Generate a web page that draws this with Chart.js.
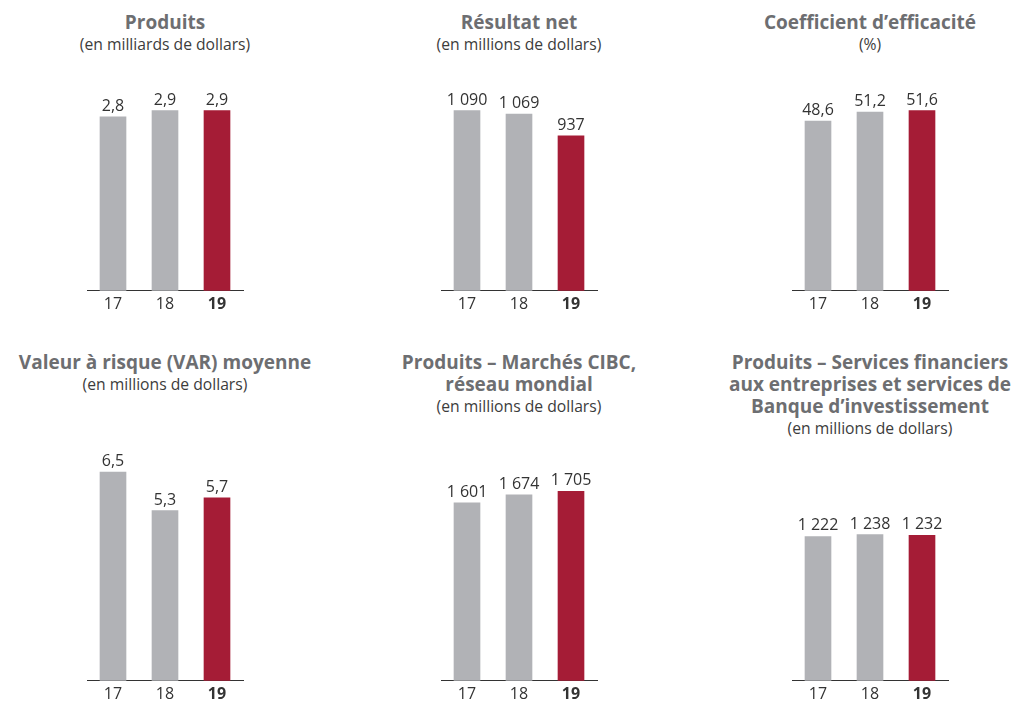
<!DOCTYPE html>
<html lang="fr">
<head>
<meta charset="utf-8">
<title>Faits saillants</title>
<script src="https://cdn.jsdelivr.net/npm/chart.js@4/dist/chart.umd.min.js"></script>
<style>
  html, body { margin: 0; padding: 0; overflow: hidden; background: #fff; }
  body { width: 1017px; height: 701px; position: relative; font-family: "Open Sans", sans-serif; }
  .title { position: absolute; width: 380px; text-align: center; }
  .title b { display: block; font-size: 19px; line-height: 22px; color: #6d6e71; font-weight: 700; }
  .title span { display: block; font-size: 15.7px; line-height: 22px; color: #3c3c3c; }
  canvas { position: absolute; }
</style>
</head>
<body>
<script>
"use strict";

const years = ["17", "18", "19"];
const produits = [2.8, 2.9, 2.9];
const resultatNet = [1090, 1069, 937];
const coefficientEfficacite = [48.6, 51.2, 51.6];
const varMoyenne = [6.5, 5.3, 5.7];
const produitsMarches = [1601, 1674, 1705];
const produitsServices = [1222, 1238, 1232];

const GREY = "#b1b2b6";
const RED = "#a51c36";

// layout of the two rows (plot area top / axis line, page pixels)
const rows = [
  { titleTop: 11, areaTop: 90.7, axisY: 291 },
  { titleTop: 351, areaTop: 440.7, axisY: 681 },
];

const panels = [
  { title: ["Produits"], sub: "(en milliards de dollars)", values: produits, dec: 1, max: 3.23, cx: 165, row: 0 },
  { title: ["Résultat net"], sub: "(en millions de dollars)", values: resultatNet, dec: 0, max: 1214, cx: 519, row: 0 },
  { title: ["Coefficient d’efficacité"], sub: "(%)", values: coefficientEfficacite, dec: 1, max: 57.5, cx: 870, row: 0 },
  { title: ["Valeur à risque (VAR) moyenne"], sub: "(en millions de dollars)", values: varMoyenne, dec: 1, max: 7.5, cx: 165, row: 1 },
  { title: ["Produits – Marchés CIBC,", "réseau mondial"], sub: "(en millions de dollars)", values: produitsMarches, dec: 0, max: 2167, cx: 519, row: 1 },
  { title: ["Produits – Services financiers", "aux entreprises et services de", "Banque d’investissement"], sub: "(en millions de dollars)", values: produitsServices, dec: 0, max: 2039, cx: 870, row: 1 },
];

function fmt(v, dec) {
  const s = v.toFixed(dec).split(".");
  s[0] = s[0].replace(/\B(?=(\d{3})+(?!\d))/g, " ");
  return s.join(",");
}

const valueLabels = {
  id: "valueLabels",
  afterDatasetsDraw(chart, args, opts) {
    const { ctx } = chart;
    const data = chart.data.datasets[0].data;
    ctx.save();
    ctx.font = '16px "Open Sans"';
    ctx.fillStyle = "#333";
    ctx.textAlign = "center";
    ctx.textBaseline = "alphabetic";
    chart.getDatasetMeta(0).data.forEach((bar, i) => {
      ctx.fillText(fmt(data[i], opts.dec), bar.x, bar.y - 6);
    });
    ctx.restore();
  },
};

const PAD_TOP = 40;
const PAD_BOTTOM = 12;
const TICK_PAD = 4;
const X_AXIS_H = TICK_PAD * 2 + 16 * 1.2;

panels.forEach((p) => {
  const row = rows[p.row];

  const t = document.createElement("div");
  t.className = "title";
  t.style.left = p.cx - 190 + "px";
  t.style.top = row.titleTop + "px";
  t.innerHTML = p.title.map((l) => "<b>" + l + "</b>").join("") + "<span>" + p.sub + "</span>";
  document.body.appendChild(t);

  const canvas = document.createElement("canvas");
  canvas.width = 180;
  canvas.height = Math.round(row.axisY - row.areaTop + PAD_TOP + X_AXIS_H + PAD_BOTTOM);
  canvas.style.left = p.cx - 90 + "px";
  document.body.appendChild(canvas);

  const chart = new Chart(canvas, {
    type: "bar",
    data: {
      labels: years,
      datasets: [
        {
          data: p.values,
          backgroundColor: [GREY, GREY, RED],
          barThickness: 26,
          borderWidth: 0,
        },
      ],
    },
    options: {
      responsive: false,
      animation: false,
      layout: { padding: { top: PAD_TOP, bottom: PAD_BOTTOM, left: 12, right: 12 } },
      scales: {
        x: {
          grid: { display: false, drawTicks: false },
          border: { display: true, color: "#333", width: 1 },
          ticks: {
            padding: TICK_PAD,
            color: "#333",
            font: (ctx) => ({ family: "Open Sans", size: 16, weight: ctx.index === 2 ? "bold" : "normal" }),
          },
        },
        y: { display: false, min: 0, max: p.max },
      },
      plugins: {
        legend: { display: false },
        tooltip: { enabled: false },
        valueLabels: { dec: p.dec },
      },
    },
    plugins: [valueLabels],
  });

  // put the axis line exactly on the row's baseline
  canvas.style.top = row.axisY - chart.chartArea.bottom + "px";
});
</script>
</body>
</html>
